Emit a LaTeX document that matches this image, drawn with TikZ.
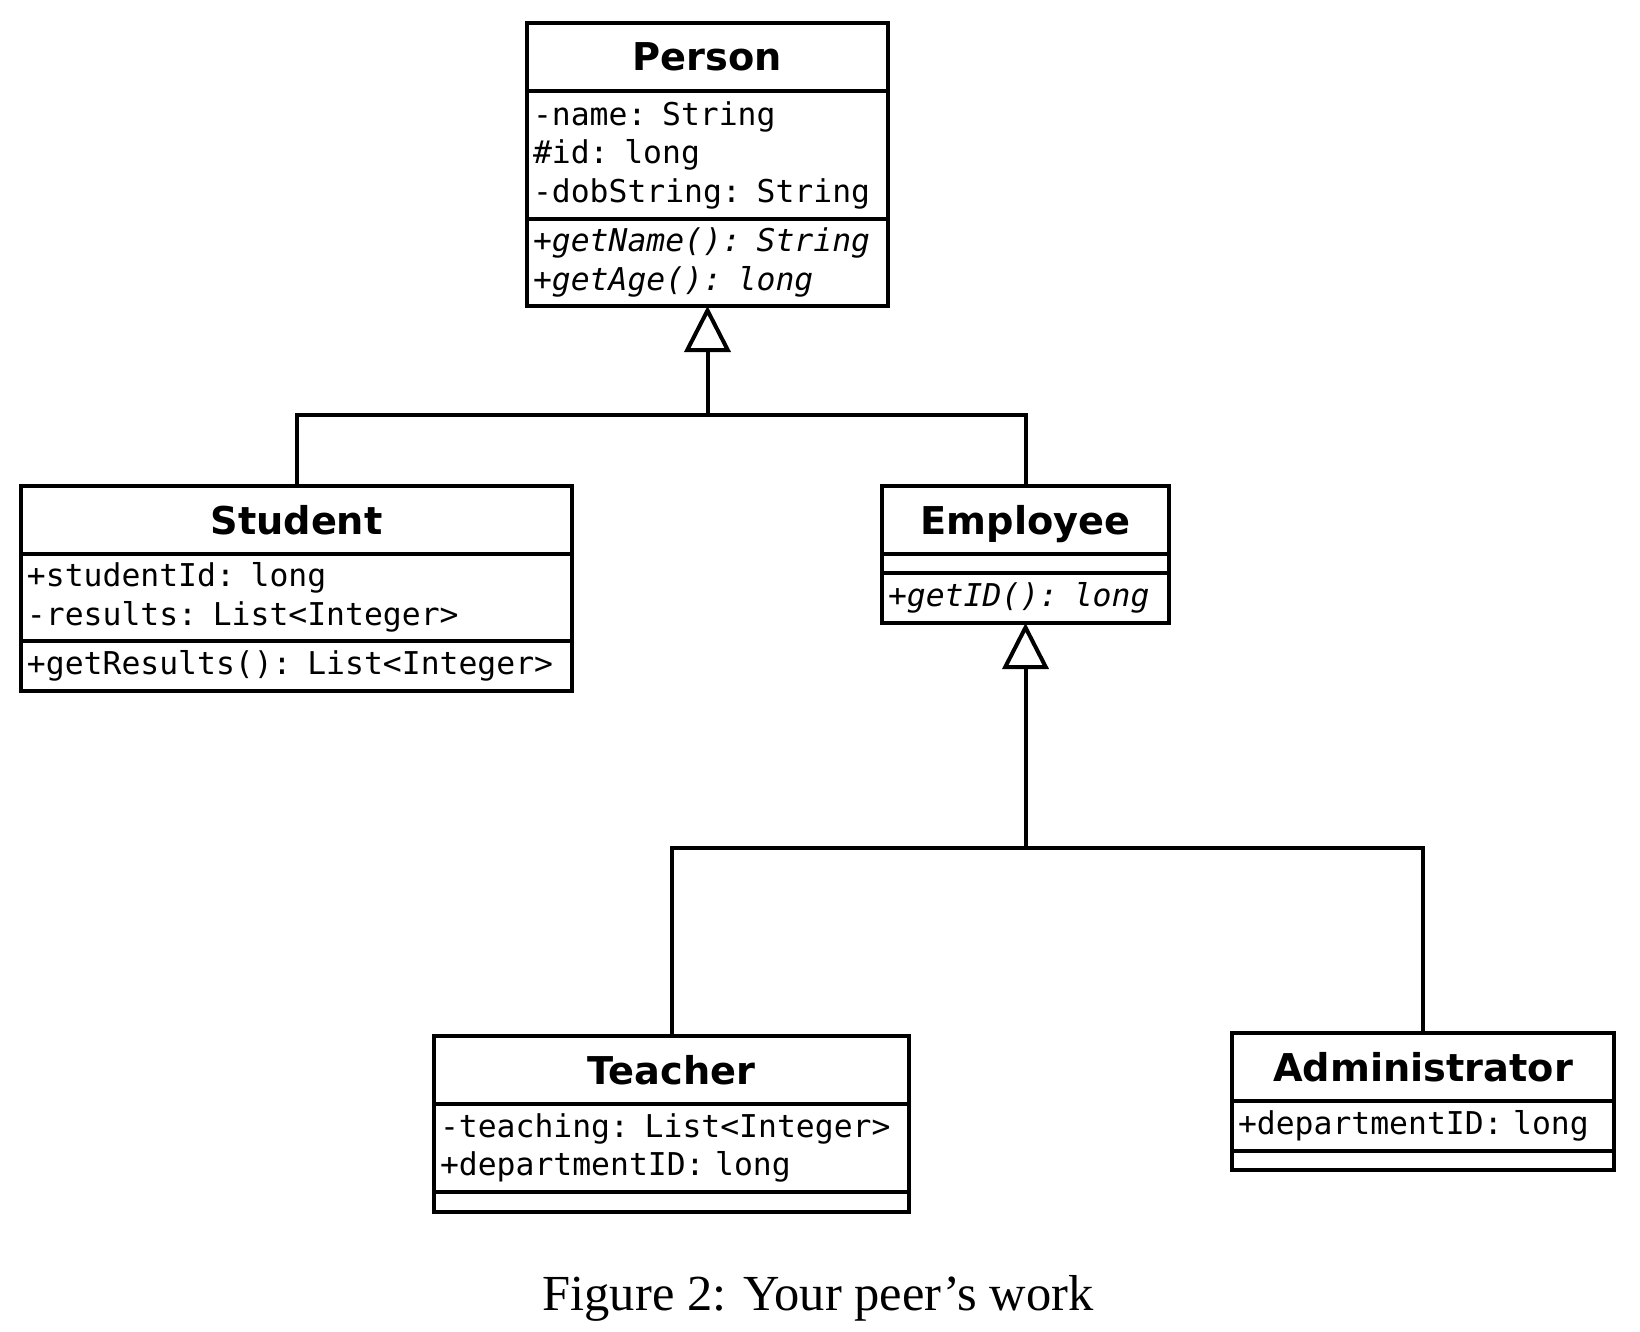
\documentclass[tikz,border=0pt]{standalone}
\usepackage{fontspec}
\setmainfont{Liberation Serif}
\newfontfamily\umlsans{DejaVu Sans}
\newfontfamily\umlmono{DejaVu Sans Mono}
\usetikzlibrary{arrows.meta, positioning}
\tikzset{x=1pt, y=-1pt, % One unit per pixel, y grows downwards
  class/.style={ % Name compartment of a class
    draw, line width=4.5pt, outer sep=0pt, inner sep=0pt,
    minimum height=68pt, text height=28pt, text depth=0pt,
    font={\umlsans\bfseries\fontsize{38.3}{40}\selectfont}},
  members/.style={ % Attribute compartment
    draw, line width=4.5pt, outer sep=0pt, inner xsep=6pt, inner ysep=0pt,
    align=left, font={\umlmono\fontsize{31.4}{38.5}\selectfont}},
  abstract/.style={ % Operation compartment, set in italics
    members, font={\umlmono\itshape\fontsize{31.4}{38.5}\selectfont}},
  link/.style={draw, line width=4pt},
  inherits/.style={ % Generalisation with a hollow triangle
    link, -{Triangle[open, length=46pt, width=46pt]}}}

\begin{document}
\begin{tikzpicture}
  \useasboundingbox (0,0) rectangle (1640,1332);
  \node[class, minimum width=361pt, anchor=north] (person) at (707.5,23) {Person};
  \node[members, below=0pt of person, text width=349pt, minimum height=128pt] (person-attr)
    {-name: String\\\#id: long\\-dobString: String};
  \node[abstract, below=0pt of person-attr, text width=349pt, minimum height=87pt] (person-ops)
    {+getName(): String\\+getAge(): long};

  \node[class, minimum width=551pt, anchor=north] (student) at (296.5,486) {Student};
  \node[members, below=0pt of student, text width=539pt, minimum height=87pt] (student-attr)
    {+studentId: long\\-results: List<Integer>};
  \node[members, below=0pt of student-attr, text width=539pt, minimum height=50pt] (student-ops)
    {+getResults(): List<Integer>};

  \node[class, minimum width=287pt, anchor=north] (employee) at (1025.5,486) {Employee};
  \node[members, below=0pt of employee, minimum width=287pt, minimum height=19pt] (employee-attr) {};
  \node[abstract, below=0pt of employee-attr, text width=275pt, minimum height=50pt] (employee-ops)
    {+getID(): long};

  \node[class, minimum width=475pt, anchor=north] (teacher) at (671.5,1036) {Teacher};
  \node[members, below=0pt of teacher, text width=463pt, minimum height=88pt] (teacher-attr)
    {-teaching: List<Integer>\\+departmentID: long};
  \node[members, below=0pt of teacher-attr, minimum width=475pt, minimum height=20pt] (teacher-ops) {};

  \node[class, minimum width=382pt, anchor=north] (admin) at (1423,1033) {Administrator};
  \node[members, below=0pt of admin, text width=370pt, minimum height=50pt] (admin-attr)
    {+departmentID: long};
  \node[members, below=0pt of admin-attr, minimum width=382pt, minimum height=19pt] (admin-ops) {};

  \coordinate (fork-person) at (707.5,415);
  \coordinate (fork-employee) at (1025.5,848);
  \draw[inherits] (fork-person) -- (person-ops.south);
  \draw[link] (student.north) |- (fork-person) -| (employee.north);
  \draw[inherits] (fork-employee) -- (employee-ops.south);
  \draw[link] (teacher.north) |- (fork-employee) -| (admin.north);

  \node[anchor=base, font=\fontsize{50.5}{60}\selectfont] (caption) at (818,1310)
    {Figure 2: Your peer’s work};
\end{tikzpicture}
\end{document}
